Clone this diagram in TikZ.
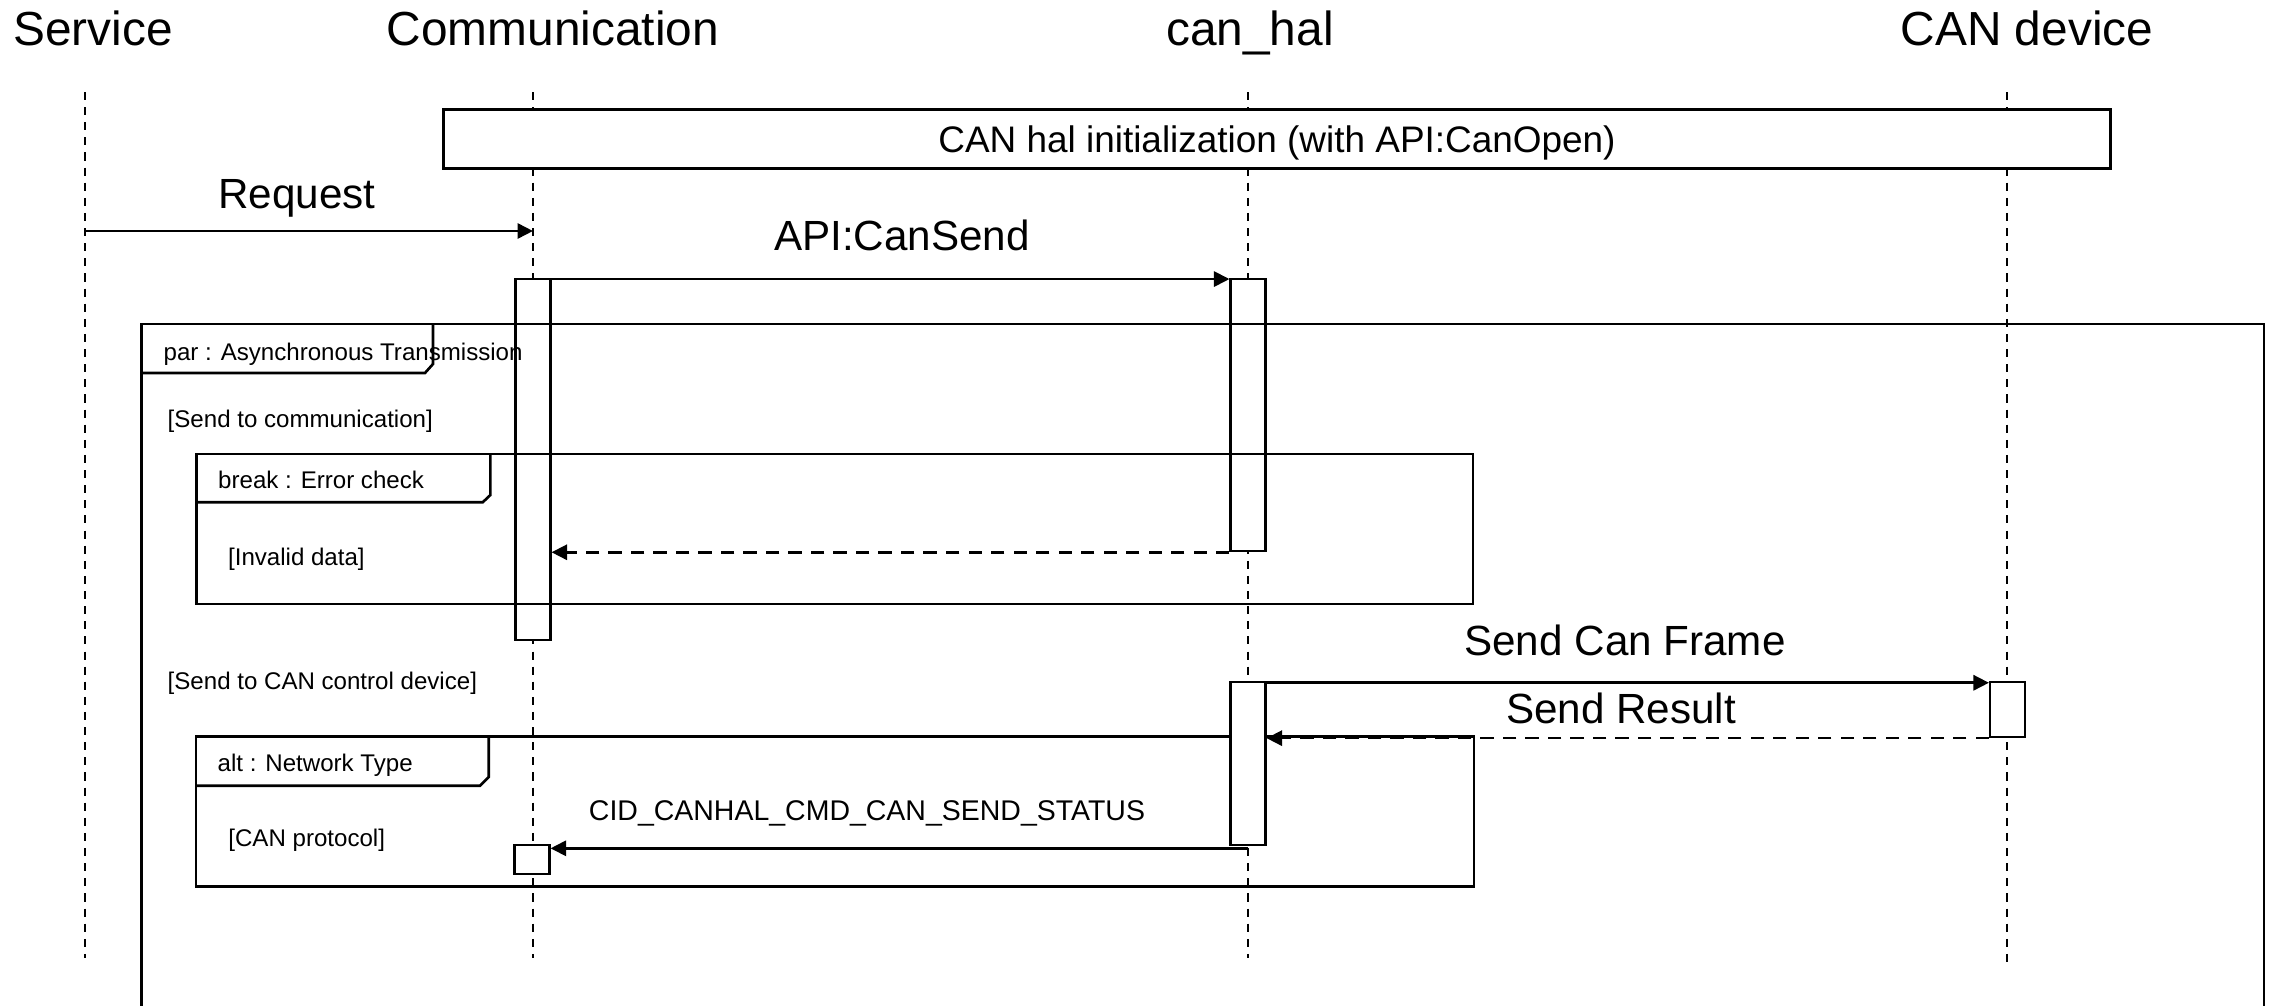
\documentclass[tikz,border=0pt]{standalone}
\usepackage{fontspec}
\setmainfont{Liberation Sans}
\usetikzlibrary{arrows.meta}
\begin{document}
\begin{tikzpicture}[x=0.01cm, y=-0.01cm,
  lifeline/.style={line width=0.4pt, dash pattern=on 2.3pt off 2pt},
  frame/.style={draw, line width=0.75pt},
  act/.style={draw, fill=white, line width=0.6pt, minimum width=0.35cm,
    inner sep=0pt, anchor=north},
  msg/.style={line width=0.75pt, -{Triangle[length=4.4pt,width=4.3pt]}},
  reply/.style={msg, dash pattern=on 3.8pt off 2.6pt},
  title/.style={inner sep=0pt, anchor=base, font=\fontsize{13.6}{16}\selectfont},
  msglabel/.style={inner sep=0pt, anchor=base, font=\fontsize{12}{14}\selectfont},
  guard/.style={inner sep=0pt, anchor=base west, font=\fontsize{6.85}{8}\selectfont},
]
\useasboundingbox (0,0) rectangle (2275,1006);
\clip (0,0) rectangle (2275,1006);

% participants
\node[title] (tSvc) at (93,45) {Service};
\node[title] (tCom) at (553,45) {Communication};
\node[title] (tHal) at (1250,45) {can\_hal};
\node[title] (tDev) at (2027,45) {CAN device};

% lifelines
\coordinate (svcTop) at (85,92);   \coordinate (svcBot) at (85,958);
\coordinate (comTop) at (533,92);  \coordinate (comBot) at (533,958);
\coordinate (halTop) at (1248,92); \coordinate (halBot) at (1248,958);
\coordinate (devTop) at (2007,92); \coordinate (devBot) at (2007,966);
\draw[lifeline] (svcTop) -- (svcBot);
\draw[lifeline] (comTop) -- (comBot);
\draw[lifeline] (halTop) -- (halBot);
\draw[lifeline] (devTop) -- (devBot);

% initialization band
\node[frame, fill=white, minimum width=16.664cm, minimum height=0.59cm,
  text depth=0pt, font=\fontsize{10.5}{12}\selectfont] (init) at (1277,138.8)
  {CAN hal initialization (with API:CanOpen)};

% alt fragment (its top edge runs behind the can_hal activation)
\draw[frame] (196,736.7) rectangle (1474,886.7);
\draw[frame] (488.7,736.7) -- (488.7,777) -- (480,785.7) -- (196,785.7);

% activations
\node[act, minimum height=3.61cm] (comAct) at (533,278) {};
\node[act, minimum height=2.72cm] (halAct1) at (1248,278) {};
\node[act, minimum height=1.63cm] (halAct2) at (1248,681) {};
\node[act, minimum height=0.55cm] (devAct) at (2007.5,681) {};
\node[act, minimum height=0.29cm] (comAct2) at (532,844) {};

% par fragment
\draw[frame] (141.7,324) rectangle (2264,1100);
\draw[frame] (433,324) -- (433,364) -- (425,373) -- (141.7,373);
% break fragment
\draw[frame] (196.4,454) rectangle (1473,604);
\draw[frame] (490.4,454) -- (490.4,495) -- (482.7,502.3) -- (196.4,502.3);

% messages
\coordinate (reqFrom) at (86,231);
\coordinate (reqTo) at (533,231);
\draw[msg] (reqFrom) -- (reqTo);
\coordinate (sendFrom) at ([yshift=-0.3pt]comAct.north east);
\draw[msg] (sendFrom) -- (halAct1.west |- sendFrom);
\draw[reply] (halAct1.south west) -- (comAct.east |- halAct1.south);
\coordinate (frameFrom) at ([yshift=-0.5pt]halAct2.north east);
\draw[msg] (frameFrom) -- (devAct.west |- frameFrom);
\draw[reply] (devAct.south west) -- (halAct2.east |- devAct.south);
\coordinate (cidFrom) at ([yshift=-0.6pt]halAct2.south);
\draw[msg] (cidFrom) -- (comAct2.east |- cidFrom);

% message labels
\node[msglabel] (lReq) at (297,208) {Request};
\node[msglabel] (lSend) at (902,250) {API:CanSend};
\node[msglabel] (lFrame) at (1625,655) {Send Can Frame};
\node[msglabel] (lRes) at (1621,723) {Send Result};
\node[inner sep=0pt, anchor=base, font=\fontsize{8.1}{10}\selectfont] (lCid) at (867,820.7)
  {CID\_CANHAL\_CMD\_CAN\_SEND\_STATUS};

% fragment labels and guards
\node[guard] (gPar) at (163,360) {par : Asynchronous Transmission};
\node[guard] (gCom) at (167,427) {[Send to communication]};
\node[guard] (gBrk) at (217.5,488) {break : Error check};
\node[guard] (gInv) at (227.4,565) {[Invalid data]};
\node[guard] (gDev) at (167,689) {[Send to CAN control device]};
\node[guard] (gAlt) at (217,771.7) {alt : Network Type};
\node[guard] (gCan) at (227.7,846.7) {[CAN protocol]};
\end{tikzpicture}
\end{document}
